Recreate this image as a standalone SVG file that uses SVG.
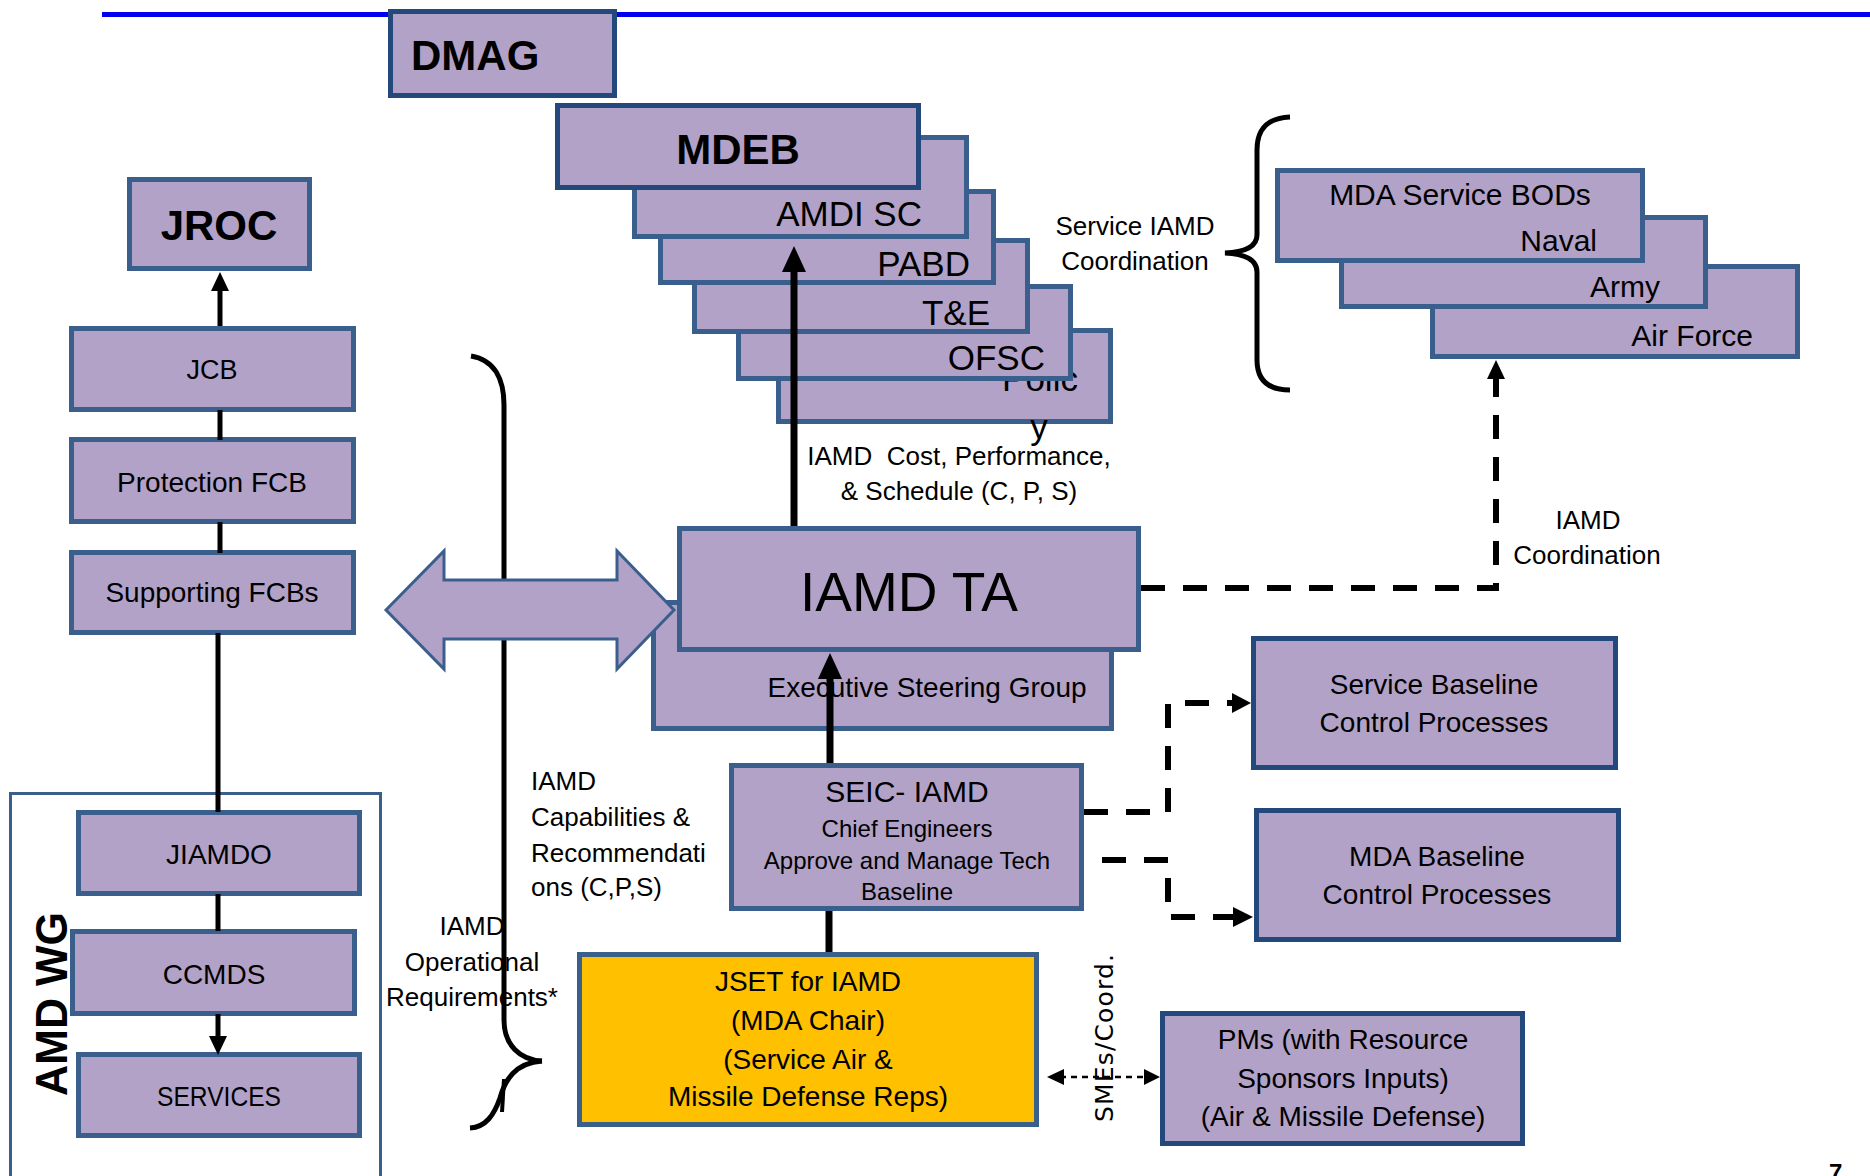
<svg xmlns="http://www.w3.org/2000/svg" width="1870" height="1176" viewBox="0 0 1870 1176">
<style>
.bx{fill:#b3a2c7;stroke:#3b5f8c;stroke-width:5}
.bd{fill:#b3a2c7;stroke:#23497c;stroke-width:5}
.t{font-family:"Liberation Sans",Arial,sans-serif;fill:#000}
.b{font-weight:bold}
.m{text-anchor:middle}
.e{text-anchor:end}
.ln{stroke:#000;fill:none}
.dash{stroke:#000;fill:none;stroke-width:6;stroke-dasharray:24 18}
</style>
<defs>
<marker id="ah" markerWidth="10" markerHeight="10" refX="0" refY="0" viewBox="-5 -5 10 10" orient="auto" markerUnits="userSpaceOnUse"><path d="M0,0"/></marker>
</defs>
<line x1="102" y1="14.5" x2="1870" y2="14.5" stroke="#0000f0" stroke-width="5"/>

<g id="dmag"><rect class="bd" x="390.5" y="11.5" width="224" height="84"/><text class="t b" x="411" y="70" font-size="42">DMAG</text></g>

<g id="policy"><rect class="bx" x="778.5" y="330.5" width="332" height="91"/><text class="t m" x="1040" y="391" font-size="35">Polic</text><text class="t m" x="1039" y="439" font-size="35">y</text></g>
<g id="ofsc"><rect class="bx" x="738.5" y="286.5" width="332" height="92"/><text class="t e" x="1045" y="370" font-size="35">OFSC</text></g>
<g id="te"><rect class="bx" x="694.5" y="240.5" width="333" height="91"/><text class="t e" x="990" y="325" font-size="35">T&amp;E</text></g>
<g id="pabd"><rect class="bx" x="660.5" y="191.5" width="333" height="91"/><text class="t e" x="970" y="276" font-size="35">PABD</text></g>
<g id="amdisc"><rect class="bx" x="634.5" y="137.5" width="332" height="99"/><text class="t e" x="922" y="226" font-size="35">AMDI SC</text></g>
<g id="mdeb"><rect class="bd" x="557.5" y="105.5" width="361" height="82"/><text class="t b m" x="738" y="164" font-size="42">MDEB</text></g>

<g id="jroc"><rect class="bx" x="129.5" y="179.5" width="180" height="89"/><text class="t b m" x="219" y="240" font-size="42">JROC</text></g>
<g id="jcb"><rect class="bx" x="71.5" y="328.5" width="282" height="81"/><text class="t m" x="212" y="379" font-size="27">JCB</text></g>
<g id="protection"><rect class="bx" x="71.5" y="439.5" width="282" height="82"/><text class="t m" x="212" y="492" font-size="28">Protection FCB</text></g>
<g id="supporting"><rect class="bx" x="71.5" y="552.5" width="282" height="80"/><text class="t m" x="212" y="602" font-size="28">Supporting FCBs</text></g>

<g id="amdwg"><rect x="10.5" y="793.5" width="370" height="390" fill="#fff" stroke="#3b5f8c" stroke-width="3"/><text class="t b m" transform="translate(67,1004) rotate(-90)" font-size="45" textLength="184" lengthAdjust="spacingAndGlyphs">AMD WG</text></g>
<g id="jiamdo"><rect class="bx" x="78.5" y="812.5" width="281" height="81"/><text class="t m" x="219" y="864" font-size="28">JIAMDO</text></g>
<g id="ccmds"><rect class="bx" x="72.5" y="931.5" width="282" height="82"/><text class="t m" x="214" y="984" font-size="28">CCMDS</text></g>
<g id="services"><rect class="bx" x="78.5" y="1054.5" width="281" height="81"/><text class="t m" x="219" y="1106" font-size="28" textLength="124" lengthAdjust="spacingAndGlyphs">SERVICES</text></g>

<g id="mdaservice">
<rect class="bx" x="1432.5" y="266.5" width="365" height="90"/><text class="t e" x="1753" y="346" font-size="30">Air Force</text>
<rect class="bx" x="1341.5" y="217.5" width="364" height="89"/><text class="t e" x="1660" y="297" font-size="30">Army</text>
<rect class="bx" x="1277.5" y="170.5" width="365" height="90"/><text class="t m" x="1460" y="205" font-size="30">MDA Service BODs</text><text class="t e" x="1597" y="251" font-size="30">Naval</text>
</g>

<g id="labels">
<text class="t m" x="1135" y="235" font-size="26">Service IAMD</text>
<text class="t m" x="1135" y="270" font-size="26">Coordination</text>
<text class="t m" x="959" y="465" font-size="26" xml:space="preserve">IAMD  Cost, Performance,</text>
<text class="t m" x="959" y="500" font-size="26">&amp; Schedule (C, P, S)</text>
<text class="t m" x="1588" y="529" font-size="26">IAMD</text>
<text class="t m" x="1587" y="564" font-size="26">Coordination</text>
<text class="t" x="531" y="790" font-size="26">IAMD</text>
<text class="t" x="531" y="826" font-size="26">Capabilities &amp;</text>
<text class="t" x="531" y="862" font-size="26">Recommendati</text>
<text class="t" x="531" y="896" font-size="26">ons (C,P,S)</text>
<text class="t m" x="472" y="935" font-size="26">IAMD</text>
<text class="t m" x="472" y="971" font-size="26">Operational</text>
<text class="t m" x="472" y="1006" font-size="26">Requirements*</text>
<text font-family="'DejaVu Sans',Verdana,sans-serif" font-size="25" transform="translate(1113,1122) rotate(-90)" textLength="168">SMEs/Coord.</text>
<text class="t b" x="1829" y="1181" font-size="24">7</text>
</g>

<g id="connectors">
<line class="ln" x1="794" y1="526" x2="794" y2="266" stroke-width="7"/>
<polygon points="794,246 782,272 806,272"/>
<line class="ln" x1="220" y1="326" x2="220" y2="288" stroke-width="5"/>
<polygon points="220,272 211,291 229,291"/>
<line class="ln" x1="220" y1="410" x2="220" y2="440" stroke-width="5"/>
<line class="ln" x1="220" y1="522" x2="220" y2="553" stroke-width="5"/>
<line class="ln" x1="218" y1="633" x2="218" y2="812" stroke-width="5"/>
<line class="ln" x1="218" y1="894" x2="218" y2="931" stroke-width="5"/>
<line class="ln" x1="218" y1="1014" x2="218" y2="1040" stroke-width="5"/>
<polygon points="218,1055 209,1036 227,1036"/>
<path class="ln" stroke-width="5" d="M471,356 C495,360 504,380 504,405 L504,1020 C504,1045 520,1060 542,1061"/>
<path class="ln" stroke-width="5" d="M542,1061 C515,1063 505,1080 500,1098 C494,1115 486,1127 470,1128"/>
<path class="ln" stroke-width="4" d="M504,1079 L502,1112"/>
<path class="ln" stroke-width="5" d="M1290,117 C1268,118 1257,128 1257,150 L1257,235 C1257,247 1245,252 1225,253 C1245,254 1257,260 1257,272 L1257,360 C1257,380 1268,390 1290,390"/>
<path class="dash" d="M1141,588 H1496 V378"/>
<polygon points="1496,360 1487,379 1505,379"/>
<path class="dash" d="M1084,812 H1168 V703 H1234"/>
<polygon points="1251,703 1232,693 1232,713"/>
<path class="dash" d="M1102,860 H1168 V917 H1234"/>
<polygon points="1253,917 1233,907 1233,927"/>
<line x1="1060" y1="1077" x2="1148" y2="1077" stroke="#000" stroke-width="2.5" stroke-dasharray="6 5"/>
<polygon points="1047,1077 1064,1069 1064,1085"/>
<polygon points="1160,1077 1144,1069 1144,1085"/>
<line class="ln" x1="829" y1="909" x2="829" y2="954" stroke-width="7"/>
</g>

<g id="esg"><rect class="bx" x="653.5" y="602.5" width="458" height="126"/><text class="t m" x="927" y="697" font-size="28">Executive Steering Group</text></g>
<g id="iamdta"><rect class="bx" x="679.5" y="528.5" width="459" height="121"/><text class="t m" x="909" y="611" font-size="55">IAMD TA</text></g>
<g id="bigarrow"><polygon points="386,610 444,551 444,580 617,580 617,551 674,610 617,669 617,639 444,639 444,669" fill="#b3a2c7" stroke="#3b5f8c" stroke-width="3"/></g>
<g id="seicarrow"><line class="ln" x1="830" y1="765" x2="830" y2="674" stroke-width="7"/><polygon points="830,653 818,679 842,679"/></g>

<g id="seic"><rect class="bx" x="731.5" y="765.5" width="350" height="143"/>
<text class="t m" x="907" y="802" font-size="30">SEIC- IAMD</text>
<text class="t m" x="907" y="837" font-size="24">Chief Engineers</text>
<text class="t m" x="907" y="869" font-size="24">Approve and Manage Tech</text>
<text class="t m" x="907" y="900" font-size="24">Baseline</text></g>

<g id="jset"><rect x="579.5" y="954.5" width="457" height="170" fill="#ffc000" stroke="#3b5f8c" stroke-width="5"/>
<text class="t m" x="808" y="991" font-size="28">JSET for IAMD</text>
<text class="t m" x="808" y="1030" font-size="28">(MDA Chair)</text>
<text class="t m" x="808" y="1069" font-size="28">(Service Air &amp;</text>
<text class="t m" x="808" y="1106" font-size="28">Missile Defense Reps)</text></g>

<g id="servicebaseline"><rect class="bd" x="1253.5" y="638.5" width="362" height="129"/>
<text class="t m" x="1434" y="694" font-size="28">Service Baseline</text>
<text class="t m" x="1434" y="732" font-size="28">Control Processes</text></g>
<g id="mdabaseline"><rect class="bd" x="1256.5" y="810.5" width="362" height="129"/>
<text class="t m" x="1437" y="866" font-size="28">MDA Baseline</text>
<text class="t m" x="1437" y="904" font-size="28">Control Processes</text></g>
<g id="pms"><rect class="bd" x="1162.5" y="1013.5" width="360" height="130"/>
<text class="t m" x="1343" y="1049" font-size="28">PMs (with Resource</text>
<text class="t m" x="1343" y="1088" font-size="28">Sponsors Inputs)</text>
<text class="t m" x="1343" y="1126" font-size="28">(Air &amp; Missile Defense)</text></g>
</svg>
